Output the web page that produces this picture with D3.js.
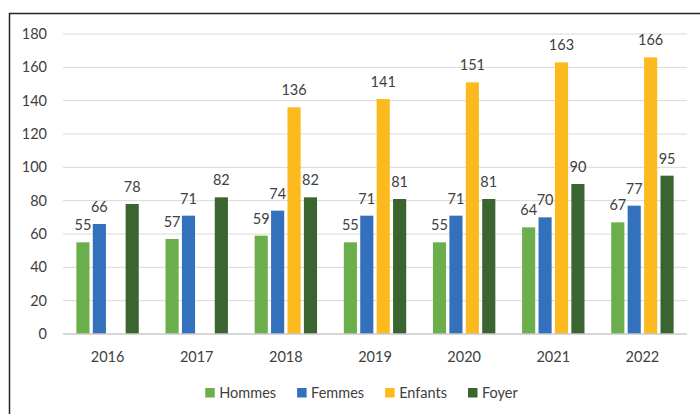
<!DOCTYPE html>
<html>
<head>
<meta charset="utf-8">
<script src="https://cdn.jsdelivr.net/npm/d3@7"></script>
<style>
  body { margin: 0; background: #fff; }
  text { font-family: Lato, "Open Sans", sans-serif; fill: #404040; }
</style>
</head>
<body>
<div id="chart"></div>
<script>
// data
var years = ["2016", "2017", "2018", "2019", "2020", "2021", "2022"];
var seriesNames = ["Hommes", "Femmes", "Enfants", "Foyer"];
var hommes = [55, 57, 59, 55, 55, 64, 67];
var femmes = [66, 71, 74, 71, 71, 70, 77];
var enfants = [null, null, 136, 141, 151, 163, 166];
var foyer = [78, 82, 82, 81, 81, 90, 95];
var yTicks = [0, 20, 40, 60, 80, 100, 120, 140, 160, 180];

var colors = ["#6aaf4b", "#3371bd", "#fcba1e", "#3a6531"];

var svgWidth = 700;
var svgHeight = 414;

var margin = { top: 34, right: 13, bottom: 80, left: 63 };
var width = svgWidth - margin.left - margin.right;
var height = 334 - margin.top;

var svg = d3.select("#chart")
  .append("svg")
  .attr("width", svgWidth)
  .attr("height", svgHeight);

// outer frame (runs off the right and bottom edge)
svg.append("rect")
  .attr("x", 9.5)
  .attr("y", 13.5)
  .attr("width", 720)
  .attr("height", 420)
  .attr("fill", "none")
  .attr("stroke", "#262626")
  .attr("stroke-width", 1.5);

var chartGroup = svg.append("g")
  .attr("transform", `translate(${margin.left}, ${margin.top})`);

var x0 = d3.scaleBand()
  .domain(years)
  .range([0, width])
  .paddingInner(0.3)
  .paddingOuter(0.15);

var x1 = d3.scaleBand()
  .domain(seriesNames)
  .range([0, x0.bandwidth()])
  .paddingInner(0.2);

var y = d3.scaleLinear()
  .domain([0, 180])
  .range([height, 0]);

// gridlines
chartGroup.selectAll(".grid")
  .data(yTicks.filter(d => d > 0))
  .enter()
  .append("line")
  .attr("x1", 0)
  .attr("x2", width)
  .attr("y1", d => y(d))
  .attr("y2", d => y(d))
  .attr("stroke", "#d9d9d9")
  .attr("stroke-width", 1);

// y tick labels
chartGroup.selectAll(".ytick")
  .data(yTicks)
  .enter()
  .append("text")
  .attr("x", -16)
  .attr("y", d => y(d))
  .attr("dy", "0.35em")
  .attr("text-anchor", "end")
  .attr("font-size", 14.5)
  .text(d => d);

var table = years.map((yr, i) => ({
  year: yr,
  values: [hommes[i], femmes[i], enfants[i], foyer[i]]
}));

var groups = chartGroup.selectAll(".year")
  .data(table)
  .enter()
  .append("g")
  .attr("transform", d => `translate(${x0(d.year)}, 0)`);

var cells = groups.selectAll("g")
  .data(d => d.values.map((v, j) => ({ key: seriesNames[j], value: v, idx: j })).filter(c => c.value != null))
  .enter()
  .append("g");

cells.append("rect")
  .attr("x", d => x1(d.key))
  .attr("y", d => y(d.value))
  .attr("width", x1.bandwidth())
  .attr("height", d => height - y(d.value))
  .attr("fill", d => colors[d.idx]);

cells.append("text")
  .attr("x", d => x1(d.key) + x1.bandwidth() / 2)
  .attr("y", d => y(d.value) - 12)
  .attr("text-anchor", "middle")
  .attr("font-size", 14.5)
  .text(d => d.value);

// zero axis line
chartGroup.append("line")
  .attr("x1", 0)
  .attr("x2", width)
  .attr("y1", height)
  .attr("y2", height)
  .attr("stroke", "#c8c8c8")
  .attr("stroke-width", 1.5);

// x labels
chartGroup.selectAll(".xtick")
  .data(years)
  .enter()
  .append("text")
  .attr("x", d => x0(d) + x0.bandwidth() / 2)
  .attr("y", height + 28)
  .attr("text-anchor", "middle")
  .attr("font-size", 14.5)
  .text(d => d);

// legend
var legend = svg.append("g");
var lx = 0;
seriesNames.forEach((name, i) => {
  var item = legend.append("g").attr("transform", `translate(${lx}, 0)`);
  item.append("rect")
    .attr("x", 0)
    .attr("y", -5)
    .attr("width", 9.5)
    .attr("height", 9.5)
    .attr("fill", colors[i]);
  var t = item.append("text")
    .attr("x", 14)
    .attr("y", 0)
    .attr("dy", "0.35em")
    .attr("font-size", 14.5)
    .text(name);
  lx += 14 + t.node().getComputedTextLength() + 21;
});
lx -= 21;
legend.attr("transform", `translate(${361.5 - lx / 2}, 393)`);
</script>
</body>
</html>
